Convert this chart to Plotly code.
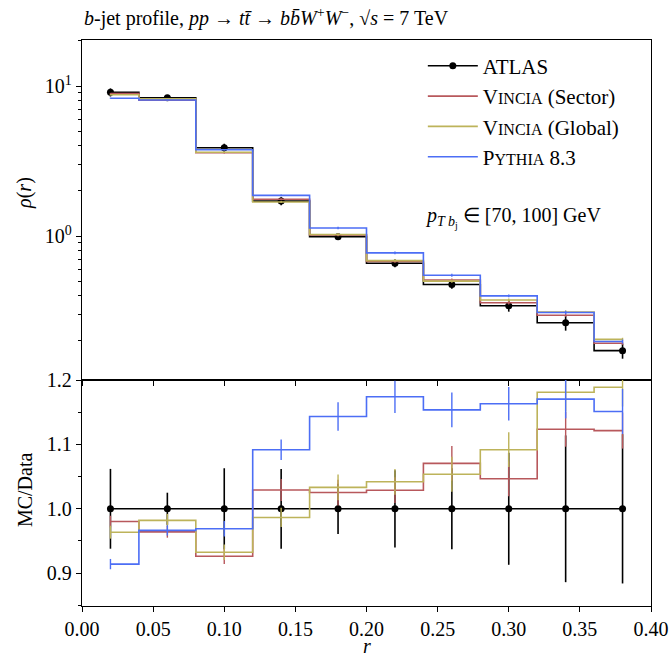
import plotly.graph_objects as go

# bin centres (r)
r_centers = [0.02, 0.06, 0.10, 0.14, 0.18, 0.22, 0.26, 0.30, 0.34, 0.38]

# ATLAS data
atlas = [9.08, 8.36, 3.88, 1.71, 0.99, 0.658, 0.475, 0.343, 0.264, 0.172]
atlas_relerr = [0.062, 0.025, 0.063, 0.062, 0.039, 0.06, 0.063, 0.087, 0.114, 0.116]

# MC predictions
vincia_sector = [8.90, 8.06, 3.594, 1.760, 1.015, 0.677, 0.5085, 0.359, 0.2966, 0.1929]
vincia_global = [8.75, 8.21, 3.618, 1.687, 1.023, 0.6856, 0.5005, 0.3745, 0.3118, 0.2045]
pythia = [8.30, 8.08, 3.76, 1.867, 1.132, 0.7725, 0.548, 0.399, 0.309, 0.198]

# MC statistical uncertainties (relative to data)
sector_relerr = [0.009, 0.009, 0.012, 0.017, 0.02, 0.02, 0.027, 0.027, 0.027, 0.028]
global_relerr = [0.01, 0.01, 0.012, 0.015, 0.02, 0.02, 0.027, 0.027, 0.03, 0.03]
pythia_relerr = [0.008, 0.008, 0.012, 0.016, 0.022, 0.025, 0.027, 0.026, 0.03, 0.035]

FONT = "Liberation Serif"
SC = "<span style='font-size:16px'>"
names = ["ATLAS",
         "V" + SC + "INCIA</span> (Sector)",
         "V" + SC + "INCIA</span> (Global)",
         "P" + SC + "YTHIA</span> 8.3"]
colors = ["#000000", "#b8585c", "#bdb35a", "#4c6ef5"]

fig = go.Figure()

# ---- upper panel ----
fig.add_trace(go.Scatter(
    x=r_centers, y=atlas, mode="lines+markers", line_shape="hvh",
    line=dict(color="black", width=1.6), marker=dict(color="black", size=7),
    error_y=dict(type="data", array=[v * e for v, e in zip(atlas, atlas_relerr)],
                 color="black", thickness=1.6, width=0),
    name=names[0], legendgroup="g0", xaxis="x", yaxis="y"))

for i, (vals, errs, col) in enumerate([(vincia_sector, sector_relerr, colors[1]),
                                       (vincia_global, global_relerr, colors[2]),
                                       (pythia, pythia_relerr, colors[3])]):
    fig.add_trace(go.Scatter(
        x=r_centers, y=vals, mode="lines", line_shape="hvh",
        line=dict(color=col, width=1.6),
        error_y=dict(type="data", array=[d * e for d, e in zip(atlas, errs)],
                     color=col, thickness=1.4, width=0),
        name=names[i + 1], legendgroup="g%d" % (i + 1), xaxis="x", yaxis="y"))

# ---- ratio panel ----
fig.add_trace(go.Scatter(
    x=r_centers, y=[a / a for a in atlas], mode="lines+markers", line_shape="hvh",
    line=dict(color="black", width=1.6), marker=dict(color="black", size=7),
    error_y=dict(type="data", array=atlas_relerr, color="black", thickness=1.6, width=0),
    showlegend=False, xaxis="x2", yaxis="y2"))

for vals, errs, col in [(vincia_sector, sector_relerr, colors[1]),
                        (vincia_global, global_relerr, colors[2]),
                        (pythia, pythia_relerr, colors[3])]:
    fig.add_trace(go.Scatter(
        x=r_centers, y=[v / a for v, a in zip(vals, atlas)], mode="lines", line_shape="hvh",
        line=dict(color=col, width=1.6),
        error_y=dict(type="data", array=errs, color=col, thickness=1.4, width=0),
        showlegend=False, xaxis="x2", yaxis="y2"))

split = 0.3993
axcommon = dict(showline=True, linecolor="black", linewidth=1.3, mirror=True,
                ticks="outside", tickcolor="black", ticklen=5, tickwidth=1.2,
                showgrid=False, zeroline=False, automargin=False,
                tickfont=dict(family=FONT, size=20, color="black"))

minor_log = [v * 10 ** k for k in (-1, 0, 1) for v in range(2, 10)]

fig.update_layout(
    width=670, height=659,
    margin=dict(l=82, r=19, t=40, b=53),
    plot_bgcolor="white", paper_bgcolor="white",
    font=dict(family=FONT, size=20, color="black"),
    xaxis=dict(domain=[0, 1], anchor="y", range=[0, 0.4], dtick=0.05,
               showticklabels=False, **axcommon),
    yaxis=dict(domain=[split, 1], anchor="x", type="log", range=[-0.96, 1.307],
               tickvals=[1, 10], ticktext=["10<sup>0</sup>", "10<sup>1</sup>"],
               minor=dict(tickvals=minor_log, ticks="outside", ticklen=3, tickcolor="black"),
               **axcommon),
    xaxis2=dict(domain=[0, 1], anchor="y2", range=[0, 0.4], dtick=0.05, tickformat=".2f",
                **axcommon),
    yaxis2=dict(domain=[0, split], anchor="x2", range=[0.849, 1.2001], dtick=0.1,
                tickformat=".1f",
                minor=dict(dtick=0.05, ticks="outside", ticklen=3, tickcolor="black"),
                **axcommon),
    legend=dict(x=0.599, y=0.99, xanchor="left", yanchor="top",
                bgcolor="rgba(0,0,0,0)", font=dict(family=FONT, size=21),
                itemwidth=50, tracegroupgap=0),
    showlegend=True,
)

annots = [
    dict(text="<i>b</i>-jet profile, <i>pp</i> → <i>t</i><i>t\u0304</i> → <i>b</i><i>b\u0304</i><i>W</i><sup>+</sup><i>W</i><sup>−</sup>, √<i>s</i> = 7 TeV",
         x=0.0, y=1.0406, xanchor="left", yanchor="middle", font=dict(size=20)),
    dict(text="<i>p</i><sub><i>T b</i><sub>j</sub></sub> ∈ [70, 100] GeV",
         x=0.599, y=0.687, xanchor="left", yanchor="middle", font=dict(size=20)),
    dict(text="<i>ρ</i>(<i>r</i>)", x=-0.1, y=0.73, textangle=-90,
         xanchor="center", yanchor="middle", font=dict(size=20)),
    dict(text="MC/Data", x=-0.1, y=0.205, textangle=-90,
         xanchor="center", yanchor="middle", font=dict(size=20)),
    dict(text="<i>r</i>", x=0.501, y=-0.07, xanchor="center", yanchor="middle",
         font=dict(size=20)),
]
for a in annots:
    fig.add_annotation(xref="paper", yref="paper", showarrow=False, **a)

fig.write_html("out.html", config={"displayModeBar": False},
               post_script="document.body.style.margin='0px';document.body.style.overflow='hidden';")
